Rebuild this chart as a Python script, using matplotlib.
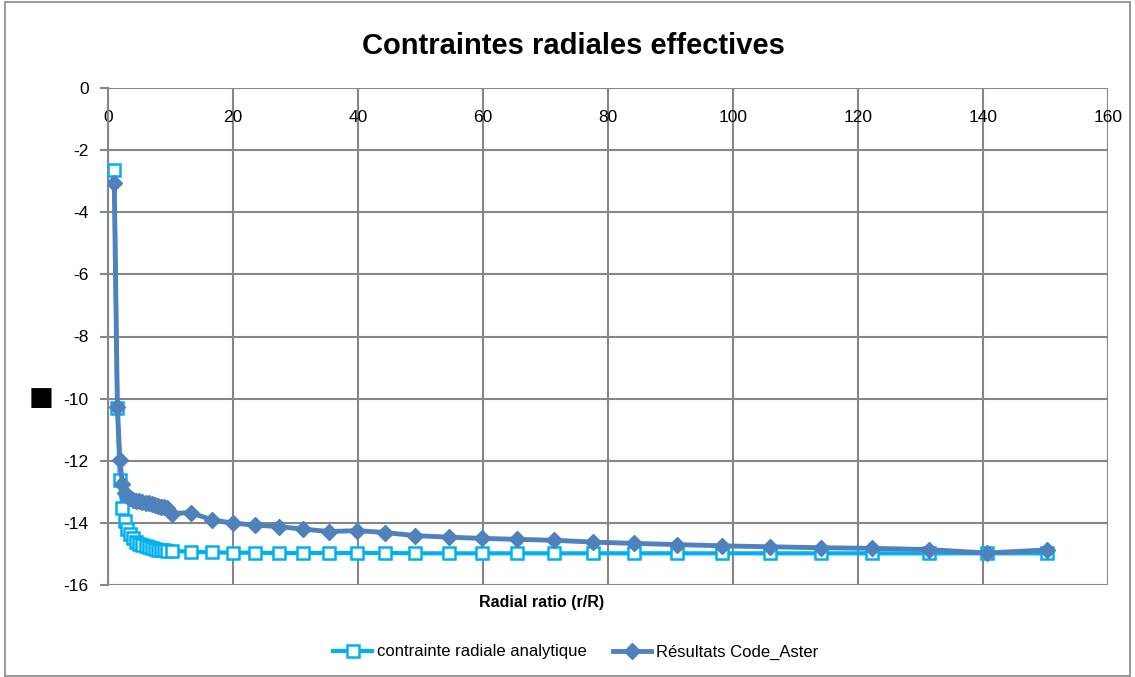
import matplotlib
matplotlib.use('Agg')
import matplotlib.pyplot as plt
from matplotlib.patches import Rectangle
from matplotlib.lines import Line2D

plt.rcParams['font.family'] = ['Liberation Sans', 'DejaVu Sans']
plt.rcParams['axes.unicode_minus'] = False

# ---- data ----
r_ratio = [1.0, 1.5, 1.9, 2.3, 2.7, 3.1, 3.5, 4.0, 4.5, 5.0, 5.5, 6.0, 6.5, 7.0,
           7.5, 8.0, 8.5, 9.0, 9.5, 10.2, 13.2, 16.6, 19.95, 23.5, 27.3, 31.2,
           35.4, 39.8, 44.3, 49.1, 54.5, 59.9, 65.4, 71.3, 77.6, 84.1, 91.1,
           98.3, 105.9, 114.0, 122.3, 131.3, 140.6, 150.3]
analytic = [-2.64, -10.31, -12.62, -13.53, -13.95, -14.20, -14.36, -14.50, -14.60,
            -14.67, -14.72, -14.76, -14.79, -14.82, -14.84, -14.86, -14.87, -14.88,
            -14.89, -14.90, -14.93, -14.95, -14.96, -14.96, -14.97, -14.97, -14.97,
            -14.97, -14.97, -14.98, -14.98, -14.98, -14.98, -14.98, -14.98, -14.98,
            -14.98, -14.98, -14.98, -14.98, -14.98, -14.98, -14.98, -14.98]
aster = [-3.05, -10.27, -11.96, -12.76, -13.05, -13.15, -13.20, -13.25, -13.28,
         -13.30, -13.33, -13.35, -13.37, -13.40, -13.42, -13.45, -13.48, -13.50,
         -13.53, -13.70, -13.67, -13.90, -14.01, -14.07, -14.12, -14.20, -14.28,
         -14.25, -14.31, -14.41, -14.46, -14.50, -14.53, -14.56, -14.62, -14.66,
         -14.70, -14.74, -14.77, -14.80, -14.82, -14.86, -14.97, -14.87]

x_ticks = list(range(0, 161, 20))
y_ticks = list(range(-16, 1, 2))

C_ANA = '#00B0F0'
C_AST = '#4F81BD'
GRID = '#868686'

fig = plt.figure(figsize=(11.35, 6.77), dpi=100)
fig.patches.append(Rectangle((0.004, 0.002), 0.992, 0.995, transform=fig.transFigure,
                             fill=False, edgecolor=GRID, linewidth=1.2))
ax = fig.add_axes([108/1135, 1-585/677, 1000/1135, 497/677])

ax.plot(r_ratio, analytic, color=C_ANA, linewidth=3, marker='s', markersize=9,
        markerfacecolor='white', markeredgecolor=C_ANA, markeredgewidth=1.8, zorder=3)
ax.plot(r_ratio, aster, color=C_AST, linewidth=3.5, marker='D', markersize=8,
        markerfacecolor=C_AST, markeredgecolor=C_AST, zorder=4)

ax.set_xlim(0, 160)
ax.set_ylim(-16, 0)
ax.set_xticks(x_ticks)
ax.set_yticks(y_ticks)
ax.grid(True, color=GRID, linewidth=1.5)
ax.set_axisbelow(True)
for s in ax.spines.values():
    s.set_visible(False)
ax.spines['left'].set_visible(True)
ax.spines['left'].set_color(GRID)
ax.spines['left'].set_linewidth(1.5)

ax.xaxis.tick_top()
ax.tick_params(axis='x', length=0, pad=-27, labelsize=12.5)
ax.tick_params(axis='y', length=6, width=1.5, color=GRID, pad=8, labelsize=12.5)

fig.text(573/1135, 1-46/677, 'Contraintes radiales effectives', fontsize=21,
         fontweight='bold', ha='center', va='center')
ax.set_xlabel('Radial ratio (r/R)', fontsize=11.5, fontweight='bold')
ax.xaxis.set_label_coords((542-108)/1000, -(602-585)/497)
ax.xaxis.label.set_va('center')
ax.set_ylabel('■', rotation=0, fontsize=19, va='center', ha='center',
              family=['DejaVu Sans'])
ax.yaxis.set_label_coords((41-108)/1000, (585-398)/497)

handles = [
    Line2D([], [], color=C_ANA, linewidth=3, marker='s', markersize=9,
           markerfacecolor='white', markeredgecolor=C_ANA, markeredgewidth=1.8),
    Line2D([], [], color=C_AST, linewidth=3.5, marker='D', markersize=8,
           markerfacecolor=C_AST, markeredgecolor=C_AST),
]
fig.legend(handles, ['contrainte radiale analytique', 'Résultats Code_Aster'],
           loc='center', bbox_to_anchor=(576/1135, 1-652/677), ncol=2, frameon=False,
           fontsize=12, handlelength=2.3, handletextpad=0.3, columnspacing=1.6)

fig.savefig('out.png', dpi=100)
